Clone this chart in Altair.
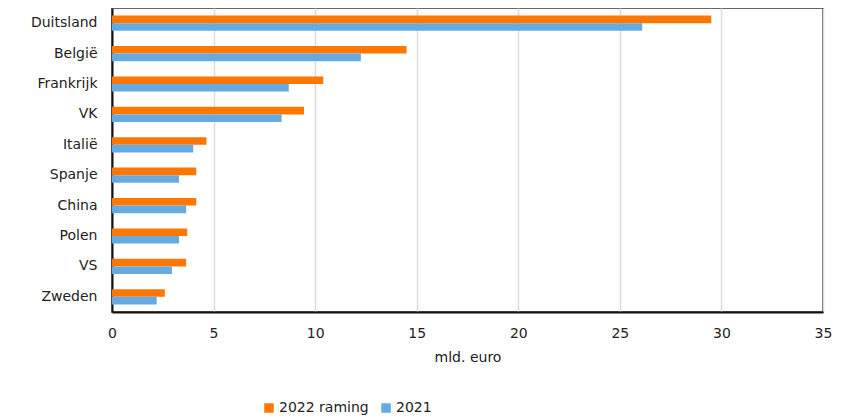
import altair as alt
import pandas as pd

countries = ["Duitsland", "België", "Frankrijk", "VK", "Italië", "Spanje", "China", "Polen", "VS", "Zweden"]
v2022 = [29.5, 14.5, 10.4, 9.45, 4.65, 4.15, 4.15, 3.7, 3.65, 2.6]
v2021 = [26.1, 12.25, 8.7, 8.35, 4.0, 3.3, 3.65, 3.3, 2.95, 2.2]
series = ["2022 raming", "2021"]
colors = ["#ff7700", "#66aae2"]

rows = []
for c, a, b in zip(countries, v2022, v2021):
    rows.append({"land": c, "reeks": series[0], "waarde": a})
    rows.append({"land": c, "reeks": series[1], "waarde": b})
df = pd.DataFrame(rows)

font = "DejaVu Sans"

bars = alt.Chart(df).mark_bar().encode(
    y=alt.Y("land:N", sort=countries, title=None,
            scale=alt.Scale(paddingInner=0.5, paddingOuter=0.25),
            axis=alt.Axis(ticks=False, labelPadding=15, labelFontSize=14, labelColor="#222",
                          labelFont=font, domainColor="#111", domainWidth=2)),
    yOffset=alt.YOffset("reeks:N", sort=series),
    x=alt.X("waarde:Q", title="mld. euro",
            scale=alt.Scale(domain=[0, 35], nice=False),
            axis=alt.Axis(values=[0, 5, 10, 15, 20, 25, 30, 35], ticks=False, labelPadding=14,
                          labelFlush=False,
                          labelFontSize=14, labelColor="#222", labelFont=font,
                          titleFont=font, titleFontSize=14, titleFontWeight="normal",
                          titleColor="#222", titlePadding=10,
                          grid=True, gridColor="#dcdcdc", gridWidth=1.5,
                          domainColor="#111", domainWidth=2)),
    color=alt.Color("reeks:N", sort=series,
                    scale=alt.Scale(domain=series, range=colors),
                    legend=alt.Legend(title=None, orient="none", direction="horizontal",
                                      legendX=150, legendY=393, symbolType="square",
                                      symbolSize=90, labelFontSize=14, labelFont=font,
                                      labelColor="#222", columnPadding=10, labelOffset=3)),
)

chart = bars.properties(
    width=711, height=304,
    autosize=alt.AutoSizeParams(type="none"),
    padding={"left": 104, "top": 0, "right": 12, "bottom": 106},
).configure_view(
    stroke="#333", strokeWidth=1.5
)

chart.save("out.html", embed_options={"renderer": "svg", "actions": False})
